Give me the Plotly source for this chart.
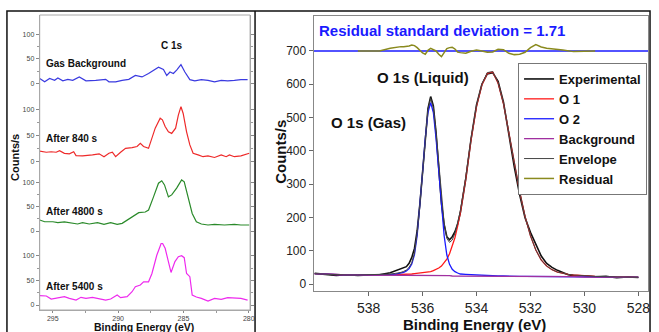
import plotly.graph_objects as go

W, H = 659, 332

# ---------------- Left panel: C 1s spectra (Counts/s vs Binding Energy) ----------------
gas_be = [296.0, 295.62, 295.24, 294.86, 294.61, 294.23, 293.85, 293.47, 292.97, 292.46, 291.71, 290.95,
          290.70, 290.19, 289.69, 289.18, 288.68, 288.17, 287.67, 286.91, 286.53, 286.28, 286.03, 285.77,
          285.52, 285.19, 284.89, 284.51, 284.13, 283.63, 283.12, 282.62, 282.11, 281.61, 281.10, 280.60, 280.09]
gas_counts = [10, 3, 10, 6, 11, 5, 8, 6, 13, 5, 6, 8, 3, 3, 6, 8, 16, 13, 20, 33, 28, 16, 23, 20, 27, 38, 23,
              7.5, 5, 7.5, 6, 3, 6, 5, 6, 7.5, 7.5]

s840_be = [296.0, 295.49, 295.12, 294.74, 294.48, 294.11, 293.73, 293.40, 293.22, 292.72, 291.96, 291.45,
           291.08, 290.70, 290.44, 290.19, 289.81, 289.43, 288.93, 288.55, 288.30, 288.05, 287.67, 287.41,
           287.16, 286.78, 286.61, 286.40, 286.15, 285.90, 285.60, 285.39, 285.19, 285.02, 284.76, 284.51,
           284.26, 283.88, 283.50, 283.12, 282.62, 282.11, 281.73, 281.48, 281.10, 280.60, 280.22, 279.96]
s840_counts = [20, 18, 19, 18, 21, 16, 15, 19, 11.5, 11, 13, 15, 9.5, 16, 18, 9.5, 18, 25.5, 27, 29, 35, 29,
               25.5, 45, 64, 83, 80, 67, 57, 54, 64, 89, 105, 92, 57, 32, 16, 13, 9.5, 11, 8, 13, 9.5, 13,
               9.5, 11, 14, 16]

s4800_be = [296.0, 295.62, 294.99, 294.61, 294.11, 293.60, 293.10, 292.72, 292.21, 291.58, 291.08, 290.57,
            290.07, 289.69, 289.18, 288.68, 288.42, 287.92, 287.67, 287.29, 286.91, 286.66, 286.45, 286.15,
            285.90, 285.52, 285.14, 284.94, 284.64, 284.33, 284.01, 283.63, 283.12, 282.62, 281.86, 281.10,
            280.60, 279.96]
s4800_counts = [22.6, 19, 19, 17, 18.5, 15.7, 14.4, 17, 14.4, 17, 13.7, 17, 13.7, 15.7, 24, 33, 37.6, 39, 43,
                70, 98, 103, 94.5, 70, 74, 88, 104.7, 101, 70, 36, 19, 14.4, 12.3, 13.7, 12.3, 13.7, 12.3, 12.3]

s5400_be = [296.0, 295.49, 295.12, 294.61, 294.11, 293.73, 293.22, 292.84, 292.46, 291.96, 291.45, 290.95,
            290.57, 290.07, 289.81, 289.31, 288.93, 288.68, 288.30, 288.05, 287.67, 287.41, 287.04, 286.66,
            286.40, 286.15, 285.95, 285.65, 285.39, 285.14, 284.94, 284.76, 284.51, 284.33, 284.01, 283.63,
            283.12, 282.62, 282.11, 281.61, 281.10, 280.60, 280.09]
s5400_counts = [19, 18.3, 12.2, 14.9, 17, 13.5, 10, 15.6, 13.5, 15.6, 13.5, 10, 12.2, 20.3, 14.9, 17, 27, 37,
                40.6, 47, 47, 64, 101, 128, 115, 88, 66, 88, 98, 100, 96, 64, 57.5, 20.3, 16.2, 13.5, 8, 13.5,
                11.5, 14.9, 14.9, 13.5, 10]

left_labels = ["Gas Background", "After 840 s", "After 4800 s", "After 5400 s"]
left_ticks = [0, 50, 100]
left_xticks = [295, 290, 285, 280]

# ---------------- Right panel: O 1s fit ----------------
be_o = [540.0, 539.6, 539.2, 538.8, 538.4, 538.0, 537.6, 537.2,
        537.0, 536.9, 536.8, 536.7, 536.6, 536.5, 536.4, 536.3, 536.2, 536.1,
        536.0, 535.9, 535.8, 535.7, 535.6, 535.5, 535.4, 535.3, 535.2, 535.1,
        535.0, 534.9, 534.8, 534.7, 534.6,
        534.4, 534.2, 534.0, 533.8, 533.6, 533.4, 533.2, 533.0, 532.8, 532.6,
        532.4, 532.2, 532.0, 531.8, 531.6, 531.4, 531.2, 531.0, 530.8, 530.6, 530.4,
        530.0, 529.6, 529.2, 528.8, 528.4, 528.0]
experimental = [32, 28, 26, 28, 26, 27, 28, 34,
                40, 44, 46, 48, 52, 62, 80, 107, 160, 240,
                335, 436, 527, 563, 535, 455, 348, 242, 178, 142,
                133, 142, 157, 180, 214,
                314, 437, 538, 600, 631, 635, 609, 546, 448, 352,
                268, 199, 155, 121, 84, 62, 50, 41, 35, 28, 25,
                25, 22, 23, 19, 21, 20]
o1 = [31, 29, 27, 27, 27, 28, 28, 28,
      28, 28, 29, 29, 29, 30, 30, 31, 32, 33,
      33, 34, 35, 37, 40, 43, 48, 54, 63, 75,
      91, 112, 139, 174, 214,
      316, 434, 532, 598, 633, 637, 603, 541, 455, 363,
      278, 203, 145, 102, 72, 54, 43, 36, 32, 29, 27,
      24, 23, 22, 21, 20, 20]
o2 = [31, 29, 27, 27, 27, 27, 28, 28,
      30, 31, 32, 35, 39, 46, 60, 88, 146, 231,
      335, 437, 515, 545, 515, 437, 335, 230, 145, 87,
      59, 44, 37, 33, 30,
      29, 28, 27, 25, 25, 24, 24, 24, 23, 23,
      23, 23, 23, 22, 22, 22, 22, 22, 22, 22, 22,
      21, 21, 21, 20, 20, 20]
background = [31, 29, 27, 27, 27, 27, 27, 26,
              26, 26, 26, 26, 26, 26, 26, 26, 26, 26,
              25, 25, 25, 25, 25, 25, 25, 25, 25, 25,
              25, 24, 24, 24, 24,
              24, 24, 24, 23, 23, 23, 23, 23, 23, 23,
              23, 23, 23, 22, 22, 22, 22, 22, 22, 22, 22,
              21, 21, 21, 20, 20, 20]
envelope = [31, 29, 27, 27, 27, 28, 28, 30,
            32, 33, 35, 38, 42, 50, 64, 93, 152, 238,
            343, 446, 525, 557, 530, 455, 358, 259, 183, 137,
            125, 132, 152, 183, 220,
            321, 438, 535, 600, 635, 638, 604, 542, 455, 363,
            278, 203, 145, 102, 72, 54, 43, 36, 32, 29, 27,
            24, 23, 22, 21, 20, 20]
res_be = [538.4, 538.0, 537.6, 537.2, 537.0, 536.9, 536.8, 536.7, 536.6, 536.5,
          536.4, 536.3, 536.2, 536.1, 536.0, 535.9, 535.8, 535.7, 535.6, 535.5,
          535.4, 535.3, 535.2, 535.1, 535.0, 534.9, 534.8, 534.7, 534.6, 534.4,
          534.2, 534.0, 533.8, 533.6, 533.4, 533.2, 533.0, 532.8, 532.6, 532.4,
          532.2, 532.0, 531.8, 531.6, 531.4, 531.2, 531.0, 530.8, 530.4, 530.0, 529.6]
residual = [700, 699, 700, 708, 711, 713, 713, 713, 713, 715,
            718, 716, 710, 703, 694, 690, 702, 708, 705, 700,
            690, 683, 695, 707, 710, 711, 706, 697, 695, 693,
            699, 703, 700, 696, 697, 705, 704, 693, 689, 690,
            696, 710, 719, 712, 708, 707, 705, 703, 698, 700, 700]
residual_level = 700
right_xticks = [538, 536, 534, 532, 530, 528]
right_yticks = [0, 100, 200, 300, 400, 500, 600, 700]
residual_text = "Residual standard deviation = 1.71"

FONT = "Liberation Sans, Arial, sans-serif"


def PX(x):
    return x / W


def PY(y):
    return 1 - y / H


fig = go.Figure()

# left traces
left_sets = [(gas_be, gas_counts, "#3a3ae0", "y"),
             (s840_be, s840_counts, "#ee2a2a", "y2"),
             (s4800_be, s4800_counts, "#2a8a2a", "y3"),
             (s5400_be, s5400_counts, "#ee2aee", "y4")]
for be, cts, col, ya in left_sets:
    fig.add_trace(go.Scatter(x=be, y=cts, mode="lines", line=dict(color=col, width=1.2),
                             xaxis="x", yaxis=ya, showlegend=False, hoverinfo="skip"))

# right traces
rstyle = [("Experimental", experimental, "#111111", 1.6),
          ("O 1", o1, "#ff1a1a", 1.3),
          ("O 2", o2, "#1a1aff", 1.3),
          ("Background", background, "#a030a0", 1.3),
          ("Envelope", envelope, "#444444", 1.0)]
for name, vals, col, w in rstyle:
    fig.add_trace(go.Scatter(x=be_o, y=vals, mode="lines", name=name, line=dict(color=col, width=w),
                             xaxis="x5", yaxis="y5"))
fig.add_trace(go.Scatter(x=res_be, y=residual, mode="lines", name="Residual",
                         line=dict(color="#8a8a1e", width=1.5), xaxis="x5", yaxis="y5"))

# left axes: domains in px (top, bottom), ranges
left_dom = [(15, 97, [-28, 139.4]), (97, 172, [-19.7, 123.5]), (172, 243, [-24.6, 121]), (243, 310, [-10.1, 125.8])]
names = ["yaxis", "yaxis2", "yaxis3", "yaxis4"]
lay = {}
for nm, (t, b, rg) in zip(names, left_dom):
    lay[nm] = dict(domain=[PY(b), PY(t)], range=rg, anchor="x", tickvals=left_ticks,
                   ticks="outside", ticklen=3, tickcolor="#888", tickfont=dict(family=FONT, size=7, color="#444"),
                   showline=True, linecolor="#a8a8a8", mirror="ticks", showgrid=False, zeroline=False,
                   minor=dict(tickvals=[25, 75], ticks="outside", ticklen=2, tickcolor="#999"))
lay["xaxis"] = dict(domain=[PX(40), PX(252)], range=[296, 279.9], anchor="y4", tickvals=left_xticks,
                    ticks="outside", ticklen=2, tickcolor="#888", tickfont=dict(family=FONT, size=7, color="#444"),
                    showline=True, linecolor="#a8a8a8", showgrid=False, zeroline=False,
                    minor=dict(tickvals=[292.5, 287.5, 282.5], ticks="outside", ticklen=2, tickcolor="#999"))
lay["xaxis5"] = dict(domain=[PX(316), PX(653)], range=[540.04, 527.64], anchor="y5", tickvals=right_xticks,
                     ticks="outside", ticklen=4, tickcolor="#666",
                     tickfont=dict(family=FONT, size=14, color="#222"),
                     showline=True, linecolor="#888", mirror=True, showgrid=False, zeroline=False)
lay["yaxis5"] = dict(domain=[PY(291), PY(16)], range=[-21, 805], anchor="x5", tickvals=right_yticks,
                     ticks="outside", ticklen=4, tickcolor="#666",
                     tickfont=dict(family=FONT, size=12, color="#222"),
                     showline=True, linecolor="#888", mirror=True, showgrid=False, zeroline=False)

shapes = [
    dict(type="rect", xref="paper", yref="paper", x0=PX(40), x1=PX(252), y0=PY(310), y1=PY(15),
         line=dict(color="#a8a8a8", width=1)),
    dict(type="rect", xref="paper", yref="paper", x0=PX(7), x1=PX(655), y0=PY(345), y1=PY(11),
         line=dict(color="#111", width=1.5)),
    dict(type="line", xref="paper", yref="paper", x0=PX(257), x1=PX(257), y0=PY(345), y1=PY(11),
         line=dict(color="#111", width=1.5)),
    dict(type="line", xref="x5 domain", yref="y5", x0=0, x1=1, y0=residual_level, y1=residual_level,
         line=dict(color="#1a1aff", width=1.5), layer="below"),
]

ann = []


def add_text(text, x, y, size, xanchor="left", yanchor="middle", angle=0, color="#111"):
    ann.append(dict(text=text, x=PX(x), y=PY(y), xref="paper", yref="paper", showarrow=False,
                    xanchor=xanchor, yanchor=yanchor, textangle=angle,
                    font=dict(family=FONT, size=size, color=color, weight="bold")))


add_text("C 1s", 173.5, 45, 10, xanchor="center")
for lbl, yy in zip(left_labels, [63, 138, 211, 286]):
    add_text(lbl, 44, yy, 10)
add_text("Counts/s", 15, 157, 11, xanchor="center", angle=-90)
add_text("Binding Energy (eV)", 145.5, 326.5, 10.5, xanchor="center")

add_text(residual_text, 319, 30, 15, color="#1a1aff")
add_text("O 1s (Liquid)", 378, 77, 15)
add_text("O 1s (Gas)", 332, 122, 15)
add_text("Counts/s", 283, 152, 15, xanchor="center", angle=-90)
add_text("Binding Energy (eV)", 478, 324, 15, xanchor="center")

fig.update_layout(
    width=W, height=H, margin=dict(l=0, r=0, t=0, b=0),
    paper_bgcolor="white", plot_bgcolor="white",
    shapes=shapes, annotations=ann,
    legend=dict(x=PX(652), y=PY(63), xanchor="right", yanchor="top", bgcolor="white",
                bordercolor="#777", borderwidth=1, itemwidth=30, tracegroupgap=0,
                font=dict(family=FONT, size=13, color="#111", weight="bold")),
    **lay,
)

fig.write_html("out.html", config={"displayModeBar": False},
               post_script="document.body.style.margin='0';")
